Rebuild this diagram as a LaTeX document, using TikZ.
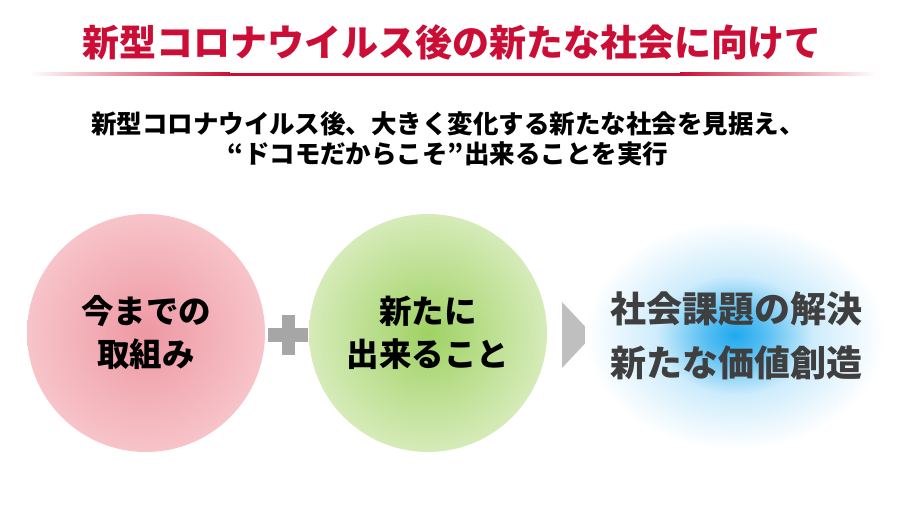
\documentclass[tikz,border=0pt]{standalone}
\usepackage{fontspec}
\setmainfont{Noto Sans CJK JP}
\usetikzlibrary{shapes.geometric}

\definecolor{titlered}{HTML}{CC0E36}
\definecolor{plusgray}{HTML}{A6A6A6}
\definecolor{arrowgray}{HTML}{BFBFBF}
\definecolor{pinkin}{HTML}{EE98A3}
\definecolor{pinkout}{HTML}{F7C4C9}
\definecolor{greenin}{HTML}{9FD263}
\definecolor{greenout}{HTML}{D6EBB9}
\definecolor{bluein}{HTML}{1FA9EE}
\definecolor{resultgray}{HTML}{3F3F3F}

\pgfdeclareradialshading{pinkglow}{\pgfpoint{0bp}{0bp}}{color(0bp)=(pinkin); color(25bp)=(pinkout); color(50bp)=(pinkout)}
\pgfdeclareradialshading{greenglow}{\pgfpoint{0bp}{0bp}}{color(0bp)=(greenin); color(25bp)=(greenout); color(50bp)=(greenout)}
\pgfdeclareradialshading{blueglow}{\pgfpoint{0bp}{0bp}}{color(0bp)=(bluein); color(5bp)=(bluein!75!white); color(13bp)=(bluein!22!white); color(25bp)=(white); color(50bp)=(white)}

\begin{document}
\begin{tikzpicture}[x=1pt, y=-1pt,
  bubble/.style={circle, minimum size=238pt, inner sep=0pt, align=center, shade,
                 font=\fontsize{32.5}{43}\selectfont\bfseries},
  resulttext/.style={align=center, text=resultgray,
                 font=\fontsize{36}{54}\selectfont\bfseries}]
  \useasboundingbox (0,0) rectangle (900,506);

  % Heading
  \node[font=\fontsize{37}{37}\selectfont\bfseries, text=titlered] (title) at (452,42)
    {新型コロナウイルス後の新たな社会に向けて};
  \shade[left color=white, right color=titlered] (30,72.5) rectangle (230,75.5);
  \fill[titlered] (230,72.5) rectangle (680,75.5);
  \shade[left color=titlered, right color=white] (680,72.5) rectangle (876,75.5);

  \node[align=center, font=\fontsize{25.5}{30.5}\selectfont\bfseries] (lead) at (448,139)
    {新型コロナウイルス後、大きく変化する新たな社会を見据え、\\“ドコモだからこそ”出来ることを実行};

  % Circles
  \node[bubble, shading=pinkglow] (past) at (146,333) {今までの\\取組み};
  \node[bubble, shading=greenglow] (new) at (428,333) {新たに\\出来ること};

  % Plus and arrow
  \fill[plusgray] (281.5,315) rectangle (295,355);
  \fill[plusgray] (268,328) rectangle (308,341.5);
  \fill[arrowgray] (562,302) -- (593,335) -- (562,368) -- cycle;

  % Result
  \node[ellipse, minimum width=300pt, minimum height=230pt, shade, shading=blueglow] (glow) at (735,335) {};
  \node[resulttext] (result) at (736,336) {社会課題の解決\\新たな価値創造};
\end{tikzpicture}
\end{document}
